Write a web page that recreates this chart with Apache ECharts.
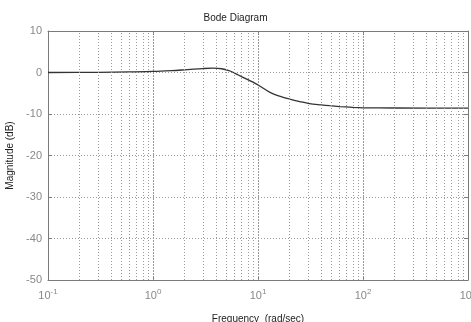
<!DOCTYPE html>
<html><head><meta charset="utf-8">
<script src="https://cdn.jsdelivr.net/npm/echarts@6/dist/echarts.min.js"></script>
<style>html,body{margin:0;padding:0;background:#fff}#c{width:471px;height:322px}</style>
</head><body><div id="c"></div>
<script>
const freq = [0.1, 0.3, 0.6, 1.0, 1.5, 2.0, 3.0, 3.7, 4.5, 5.5, 6.5, 7.8, 10, 13, 16, 20, 25, 31, 40, 48, 60, 80, 100, 200, 1000];
const magDb = [0, 0.05, 0.15, 0.25, 0.45, 0.65, 0.95, 1.05, 0.9, 0.3, -0.6, -1.6, -3.0, -4.8, -5.7, -6.4, -7.0, -7.5, -7.8, -8.0, -8.2, -8.4, -8.5, -8.55, -8.6];
const yTicks = [10, 0, -10, -20, -30, -40, -50];
const decades = [0.1, 1, 10, 100, 1000];
const gridFreqs = [];
[0.1, 1, 10, 100].forEach(d => { for (let k = 1; k <= 9; k++) if (!(k === 1 && d === 0.1)) gridFreqs.push(k * d); });

const chart = echarts.init(document.getElementById('c'), null, {renderer: 'canvas'});
const dotted = {color: '#9a9a9a', width: 1, type: [1, 2]};
const axisCol = '#7a7a7a';
chart.setOption({
  animation: false,
  title: {text: 'Bode Diagram', left: 'center', top: 8, textStyle: {fontFamily: 'Liberation Sans', fontSize: 10, fontWeight: 'normal', color: '#222'}},
  grid: {left: 48, right: 3, top: 31, bottom: 42, outerBoundsMode: 'none', containLabel: false},
  xAxis: [{
    type: 'log', logBase: 10, min: 0.1, max: 1000,
    name: 'Frequency  (rad/sec)', nameLocation: 'middle', nameGap: 34,
    nameTextStyle: {fontFamily: 'Liberation Sans', fontSize: 10, color: '#222'},
    axisLine: {onZero: false, lineStyle: {color: axisCol}},
    axisTick: {inside: true, length: 4, lineStyle: {color: axisCol}},
    splitLine: {show: true, lineStyle: dotted},
    axisLabel: {
      margin: 8, color: '#888', fontFamily: 'Liberation Sans', fontSize: 11,
      formatter: v => { const e = Math.round(Math.log10(v)); return '10{s|' + e + '}'; },
      rich: {s: {fontSize: 8, verticalAlign: 'top', padding: [0, 0, 8, 0], color: '#888', fontFamily: 'Liberation Sans'}}
    }
  }, {
    type: 'log', logBase: 10, min: 0.1, max: 1000, position: 'top',
    axisLine: {show: true, onZero: false, lineStyle: {color: axisCol}},
    axisTick: {show: true, inside: true, length: 4, lineStyle: {color: axisCol}},
    axisLabel: {show: false}, splitLine: {show: false}
  }],
  yAxis: [{
    type: 'value', min: -50, max: 10, interval: 10,
    name: 'Magnitude (dB)', nameLocation: 'middle', nameGap: 32,
    nameTextStyle: {fontFamily: 'Liberation Sans', fontSize: 10, color: '#222'},
    axisLine: {show: true, onZero: false, lineStyle: {color: axisCol}},
    axisTick: {show: true, inside: true, length: 4, lineStyle: {color: axisCol}},
    splitLine: {show: true, lineStyle: dotted},
    axisLabel: {margin: 6, color: '#888', fontFamily: 'Liberation Sans', fontSize: 11}
  }, {
    type: 'value', min: -50, max: 10, interval: 10, position: 'right',
    axisLine: {show: true, onZero: false, lineStyle: {color: axisCol}},
    axisTick: {show: true, inside: true, length: 4, lineStyle: {color: axisCol}},
    axisLabel: {show: false}, splitLine: {show: false}
  }],
  series: [{
    type: 'line', data: freq.map((f, i) => [f, magDb[i]]), smooth: 0.3,
    showSymbol: false, lineStyle: {color: '#333', width: 1.3},
    markLine: {silent: true, symbol: 'none', label: {show: false}, lineStyle: dotted,
      data: gridFreqs.map(f => ({xAxis: f}))}
  }]
});
</script></body></html>
